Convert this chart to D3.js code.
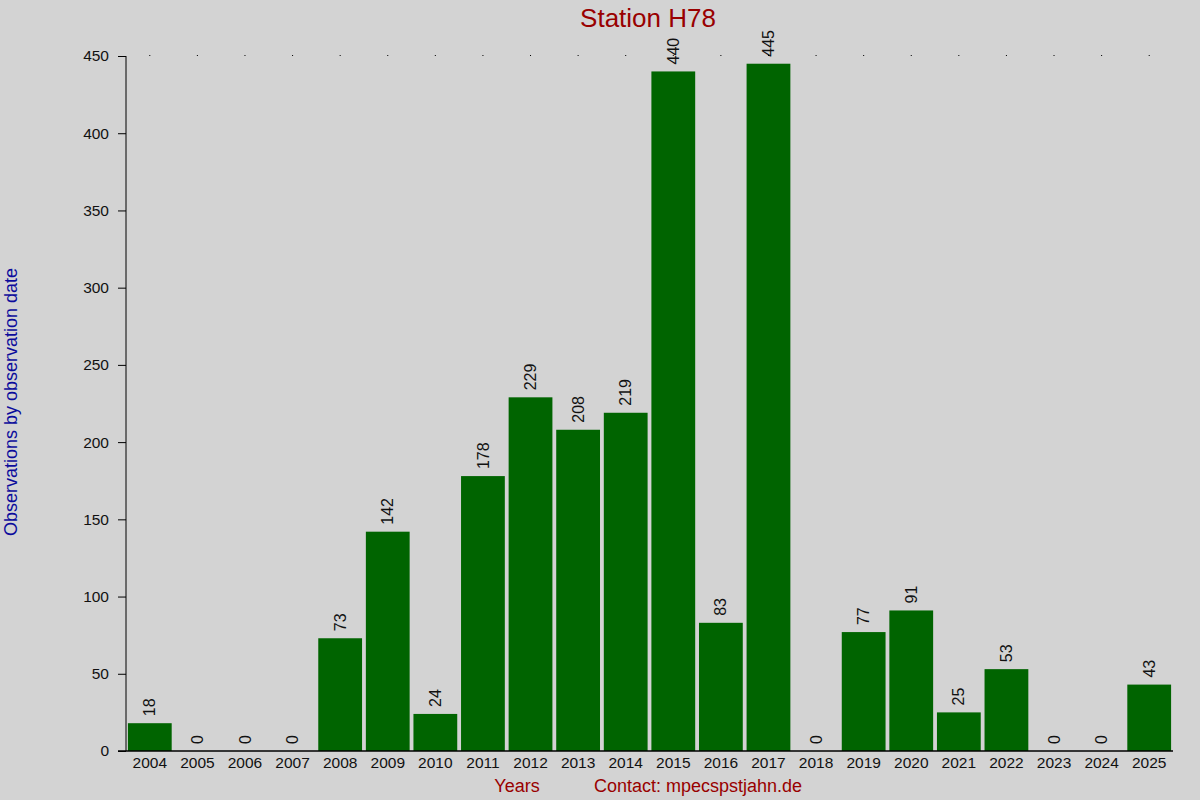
<!DOCTYPE html>
<html>
<head>
<meta charset="utf-8">
<script src="https://cdn.jsdelivr.net/npm/d3@7"></script>
<style>
	body { margin: 0; background: #d3d3d3; }
	svg { display: block; font-family: 'Liberation Sans', Arial, sans-serif; }
</style>
</head>
<body>
<div id="chart"></div>
<script>
const years = ['2004', '2005', '2006', '2007', '2008', '2009', '2010', '2011', '2012', '2013', '2014',
	'2015', '2016', '2017', '2018', '2019', '2020', '2021', '2022', '2023', '2024', '2025']
const counts = [18, 0, 0, 0, 73, 142, 24, 178, 229, 208, 219, 440, 83, 445, 0, 77, 91, 25, 53, 0, 0, 43]
const yTicks = [0, 50, 100, 150, 200, 250, 300, 350, 400, 450]

const W = 1200, H = 800
const margin = ({ top: 56, right: 27, bottom: 49, left: 126 })

const data = years.map((y, i) => ({ year: y, count: counts[i] }))

const svg = d3.select('#chart')
	.append('svg')
	.attr('width', W)
	.attr('height', H)

svg.append('rect')
	.attr('width', W)
	.attr('height', H)
	.attr('fill', '#d3d3d3')

const xScale = d3.scaleBand()
	.domain(years)
	.range([margin.left, W - margin.right])
	.paddingInner(0.08)
	.paddingOuter(0.04)

const yScale = d3.scaleLinear()
	.domain([0, 450])
	.range([H - margin.bottom, margin.top])

// bars
svg.append('g')
	.selectAll('rect')
	.data(data)
	.join('rect')
	.attr('x', d => xScale(d.year))
	.attr('y', d => yScale(d.count))
	.attr('width', xScale.bandwidth())
	.attr('height', d => yScale(0) - yScale(d.count))
	.attr('fill', '#006400')

// value labels
svg.append('g')
	.attr('font-size', 16)
	.attr('fill', '#111')
	.selectAll('text')
	.data(data)
	.join('text')
	.attr('transform', d => `translate(${xScale(d.year) + xScale.bandwidth() / 2},${yScale(d.count) - 7}) rotate(-90)`)
	.attr('dy', '0.35em')
	.attr('text-anchor', 'start')
	.text(d => d.count)

// y axis
svg.append('g')
	.attr('transform', `translate(${margin.left},0)`)
	.call(d3.axisLeft(yScale).tickValues(yTicks).tickSize(8).tickPadding(9))
	.call(g => g.selectAll('text').attr('font-size', 15.5).attr('fill', '#111').attr('font-family', null))
	.call(g => g.selectAll('line, .domain').attr('stroke', '#000'))
	.call(g => g.select('.domain').attr('d', `M0,${yScale(0)}V${yScale(450)}`))

// x axis
svg.append('g')
	.attr('transform', `translate(0,${yScale(0)})`)
	.call(d3.axisBottom(xScale).tickSize(0).tickPadding(6))
	.call(g => g.select('.domain').remove())
	.call(g => g.selectAll('text').attr('font-size', 15.5).attr('fill', '#111').attr('font-family', null))

svg.append('line')
	.attr('x1', margin.left - 8)
	.attr('x2', W - margin.right)
	.attr('y1', yScale(0))
	.attr('y2', yScale(0))
	.attr('stroke', '#000')
	.attr('stroke-width', 1.5)

// small dots along the top
svg.append('g')
	.attr('transform', `translate(0,${margin.top})`)
	.call(d3.axisTop(xScale).tickSize(1).tickFormat(''))
	.call(g => g.select('.domain').remove())
	.call(g => g.selectAll('line').attr('stroke', '#000'))

// titles
svg.append('text')
	.attr('x', 648)
	.attr('y', 27)
	.attr('text-anchor', 'middle')
	.attr('font-size', 26)
	.attr('fill', '#990000')
	.text('Station H78')

svg.append('text')
	.attr('x', 517)
	.attr('y', 792)
	.attr('text-anchor', 'middle')
	.attr('font-size', 18)
	.attr('fill', '#990000')
	.text('Years')

svg.append('text')
	.attr('x', 698)
	.attr('y', 792)
	.attr('text-anchor', 'middle')
	.attr('font-size', 18)
	.attr('fill', '#990000')
	.text('Contact: mpecspstjahn.de')

svg.append('text')
	.attr('transform', 'translate(17,402) rotate(-90)')
	.attr('text-anchor', 'middle')
	.attr('font-size', 18)
	.attr('fill', '#0c0c9c')
	.text('Observations by observation date')
</script>
</body>
</html>
